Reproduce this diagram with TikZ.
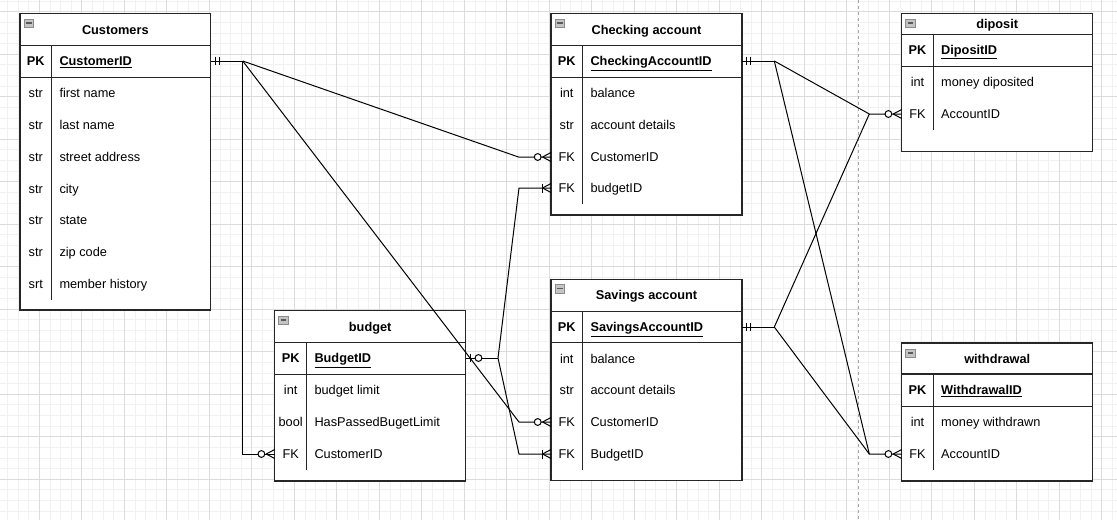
\documentclass[tikz,border=0pt]{standalone}
\usepackage{fontspec}
\setmainfont{Liberation Sans}
\usetikzlibrary{calc}
\definecolor{gridminor}{HTML}{F1F1F1}
\definecolor{gridmajor}{HTML}{DCDCDC}
\definecolor{edgec}{HTML}{262626}
\definecolor{iconfill}{HTML}{C4C4C4}
\definecolor{icondraw}{HTML}{8C8C8C}
\definecolor{icondash}{HTML}{5A5A5A}
\tikzset{
  tbox/.style={draw=edgec, line width=1.2pt, fill=white, inner sep=0pt, outer sep=0pt, anchor=north west},
  tline/.style={draw=edgec, line width=1.2pt},
  txt/.style={font=\fontsize{12.75}{15}\selectfont, inner sep=0pt, text height=9.2pt, text depth=0pt},
  ttl/.style={txt, font=\fontsize{12.75}{15}\selectfont\bfseries},
  typ/.style={txt},
  pkt/.style={txt, font=\fontsize{12.75}{15}\selectfont\bfseries},
  fld/.style={txt, anchor=west},
  pkf/.style={fld, font=\fontsize{12.75}{15}\selectfont\bfseries},
  conn/.style={draw=black, line width=1pt},
  erm/.style={draw=black, line width=1pt},
}
% markers
\newcommand\mkMandOne[1]{\begin{scope}[shift={(#1)}]
  \draw[erm] (4.5,-4.3) -- (4.5,4.3) (8.5,-4.3) -- (8.5,4.3);
\end{scope}}
\newcommand\mkZeroOne[1]{\begin{scope}[shift={(#1)}]
  \draw[erm] (4.3,-4.3) -- (4.3,4.3);
  \filldraw[erm, fill=white] (12.8,0) circle (3.4pt);
\end{scope}}
\newcommand\mkZeroMany[1]{\begin{scope}[shift={(#1)}]
  \draw[erm] (-8.5,0) -- (0,-4.5) (-8.5,0) -- (0,4.5);
  \filldraw[erm, fill=white] (-13.3,0) circle (3.4pt);
\end{scope}}
\newcommand\mkOneMany[1]{\begin{scope}[shift={(#1)}]
  \draw[erm] (-8.5,0) -- (0,-4.5) (-8.5,0) -- (0,4.5);
  \draw[erm] (-8.7,-4.5) -- (-8.7,4.5);
\end{scope}}
\newcommand\erIcon[2]{%
  \filldraw[fill=iconfill, draw=icondraw, line width=0.8pt] ($(#1.north west)+(4,#2)$) rectangle ++(9.3,8.3);
  \draw[icondash, line width=1.4pt] ($(#1.north west)+(5.8,#2+4.15)$) -- ++(5.7,0);}
\begin{document}
\begin{tikzpicture}[x=1pt,y=-1pt]
\useasboundingbox (0,0) rectangle (1117,520);
\fill[white] (0,0) rectangle (1117,520);
% grid
\foreach \i in {0,...,105} {\draw[gridminor, line width=0.8pt] ({7.4+\i*10.625},0) -- ++(0,520);}
\foreach \i in {0,...,48} {\draw[gridminor, line width=0.8pt] (0,{1.1+\i*10.625}) -- ++(1117,0);}
\foreach \i in {0,...,25} {\draw[gridmajor, line width=0.8pt] ({39.3+\i*42.5},0) -- ++(0,520);}
\foreach \i in {0,...,12} {\draw[gridmajor, line width=0.8pt] (0,{11.7+\i*42.5}) -- ++(1117,0);}
% page break line
\draw[gray!70, line width=0.8pt, dash pattern=on 3pt off 3pt] (858.3,0) -- (858.3,520);

% ---------- Customers ----------
\node[tbox, minimum width=190.7pt, minimum height=296.3pt] (cust) at (20,13.7) {};
\draw[tline] (20,45.3) -- (210.7,45.3) (20,77.3) -- (210.7,77.3) (51.7,45.3) -- (51.7,300);
\erIcon{cust}{5.3}
\node[ttl] (custT) at (115.3,29.5) {Customers};
\node[pkt] (custPKt) at (35.8,61) {PK};
\node[pkf] (custpk) at (59.3,61) {\underline{CustomerID}};
\node[typ] (c1t) at (35.8,93) {str};  \node[fld] (c1) at (59.3,93) {first name};
\node[typ] (c2t) at (35.8,125) {str}; \node[fld] (c2) at (59.3,125) {last name};
\node[typ] (c3t) at (35.8,157) {str}; \node[fld] (c3) at (59.3,157) {street address};
\node[typ] (c4t) at (35.8,189) {str}; \node[fld] (c4) at (59.3,189) {city};
\node[typ] (c5t) at (35.8,220) {str}; \node[fld] (c5) at (59.3,220) {state};
\node[typ] (c6t) at (35.8,252) {str}; \node[fld] (c6) at (59.3,252) {zip code};
\node[typ] (c7t) at (35.8,284) {srt}; \node[fld] (c7) at (59.3,284) {member history};

% ---------- Checking account ----------
\node[tbox, minimum width=191pt, minimum height=201.3pt] (chk) at (551,13.7) {};
\draw[tline] (551,45.3) -- (742,45.3) (551,77.3) -- (742,77.3) (582.7,45.3) -- (582.7,204);
\erIcon{chk}{5.3}
\node[ttl] (chkT) at (646.5,29.5) {Checking account};
\node[pkt] (chkPKt) at (566.8,61) {PK};
\node[pkf] (chkpk) at (590.3,61) {\underline{CheckingAccountID}};
\node[typ] (k1t) at (566.8,93) {int};  \node[fld] (k1) at (590.3,93) {balance};
\node[typ] (k2t) at (566.8,125) {str}; \node[fld] (k2) at (590.3,125) {account details};
\node[typ] (k3t) at (566.8,157) {FK};  \node[fld] (chkcust) at (590.3,157) {CustomerID};
\node[typ] (k4t) at (566.8,188) {FK};  \node[fld] (chkbud) at (590.3,188) {budgetID};

% ---------- Savings account ----------
\node[tbox, minimum width=191pt, minimum height=201.4pt] (sav) at (551,279.3) {};
\draw[tline] (551,311.3) -- (742,311.3) (551,342.5) -- (742,342.5) (582.7,311.3) -- (582.7,470);
\erIcon{sav}{5.3}
\node[ttl] (savT) at (646.5,295.3) {Savings account};
\node[pkt] (savPKt) at (566.8,327) {PK};
\node[pkf] (savpk) at (590.3,327) {\underline{SavingsAccountID}};
\node[typ] (s1t) at (566.8,359) {int};  \node[fld] (s1) at (590.3,359) {balance};
\node[typ] (s2t) at (566.8,390) {str};  \node[fld] (s2) at (590.3,390) {account details};
\node[typ] (s3t) at (566.8,422) {FK};   \node[fld] (savcust) at (590.3,422) {CustomerID};
\node[typ] (s4t) at (566.8,454) {FK};   \node[fld] (savbud) at (590.3,454) {BudgetID};

% ---------- budget ----------
\node[tbox, minimum width=191pt, minimum height=170.3pt] (bud) at (274.7,310.7) {};
\draw[tline] (274.7,342.7) -- (465.7,342.7) (274.7,374.3) -- (465.7,374.3) (306.7,342.7) -- (306.7,470);
\erIcon{bud}{5.3}
\node[ttl] (budT) at (370.2,326.7) {budget};
\node[pkt] (budPKt) at (290.7,358) {PK};
\node[pkf] (budpk) at (314.3,358) {\underline{BudgetID}};
\node[typ] (b1t) at (290.7,390) {int};  \node[fld] (b1) at (314.3,390) {budget limit};
\node[typ] (b2t) at (290.7,422) {bool}; \node[fld] (b2) at (314.3,422) {HasPassedBugetLimit};
\node[typ] (b3t) at (290.7,454) {FK};   \node[fld] (budcust) at (314.3,454) {CustomerID};

% ---------- diposit ----------
\node[tbox, minimum width=191pt, minimum height=138pt] (dep) at (901.7,13.7) {};
\draw[tline] (901.7,34.3) -- (1092.7,34.3) (901.7,66.3) -- (1092.7,66.3) (933.3,34.3) -- (933.3,130);
\erIcon{dep}{5.3}
\node[ttl] (depT) at (997.2,24) {diposit};
\node[pkt] (depPKt) at (917.5,50) {PK};
\node[pkf] (deppk) at (941,50) {\underline{DipositID}};
\node[typ] (d1t) at (917.5,82) {int}; \node[fld] (d1) at (941,82) {money diposited};
\node[typ] (d2t) at (917.5,114) {FK}; \node[fld] (depacc) at (941,114) {AccountID};

% ---------- withdrawal ----------
\node[tbox, minimum width=191pt, minimum height=138pt] (wd) at (901.7,343) {};
\draw[tline] (901.7,374) -- (1092.7,374) (901.7,406.7) -- (1092.7,406.7) (933.3,374) -- (933.3,470);
\erIcon{wd}{6}
\node[ttl] (wdT) at (997.2,359) {withdrawal};
\node[pkt] (wdPKt) at (917.5,390) {PK};
\node[pkf] (wdpk) at (941,390) {\underline{WithdrawalID}};
\node[typ] (w1t) at (917.5,422) {int}; \node[fld] (w1) at (941,422) {money withdrawn};
\node[typ] (w2t) at (917.5,454) {FK}; \node[fld] (wdacc) at (941,454) {AccountID};

% ---------- connectors ----------
\coordinate (j1) at ($(cust.east |- custpk)+(32,0)$);
\coordinate (j2) at ($(bud.east |- budpk)+(32.3,0)$);
\coordinate (j3) at ($(chk.east |- chkpk)+(32.3,0)$);
\coordinate (j4) at ($(sav.east |- savpk)+(32.3,0)$);

\draw[conn] (cust.east |- custpk) -- (j1);
\draw[conn] (j1) -- ($(chk.west |- chkcust)+(-32.5,0)$) -- (chk.west |- chkcust);
\draw[conn] (j1) -- ($(sav.west |- savcust)+(-32,0)$) -- (sav.west |- savcust);
\draw[conn] (j1) -- (j1 |- budcust) -- (bud.west |- budcust);

\draw[conn] (bud.east |- budpk) -- (j2);
\draw[conn] (j2) -- ($(chk.west |- chkbud)+(-32,0)$) -- (chk.west |- chkbud);
\draw[conn] (j2) -- ($(sav.west |- savbud)+(-32,0)$) -- (sav.west |- savbud);

\draw[conn] (chk.east |- chkpk) -- (j3);
\draw[conn] (j3) -- ($(dep.west |- depacc)+(-32.4,0)$) -- (dep.west |- depacc);
\draw[conn] (j3) -- ($(wd.west |- wdacc)+(-32.4,0)$) -- (wd.west |- wdacc);

\draw[conn] (sav.east |- savpk) -- (j4);
\draw[conn] (j4) -- ($(dep.west |- depacc)+(-32.4,0)$);
\draw[conn] (j4) -- ($(wd.west |- wdacc)+(-32.4,0)$);

% ---------- end markers ----------
\mkMandOne{cust.east |- custpk}
\mkMandOne{chk.east |- chkpk}
\mkMandOne{sav.east |- savpk}
\mkZeroOne{bud.east |- budpk}
\mkZeroMany{chk.west |- chkcust}
\mkZeroMany{sav.west |- savcust}
\mkZeroMany{bud.west |- budcust}
\mkZeroMany{dep.west |- depacc}
\mkZeroMany{wd.west |- wdacc}
\mkOneMany{chk.west |- chkbud}
\mkOneMany{sav.west |- savbud}
\end{tikzpicture}
\end{document}
